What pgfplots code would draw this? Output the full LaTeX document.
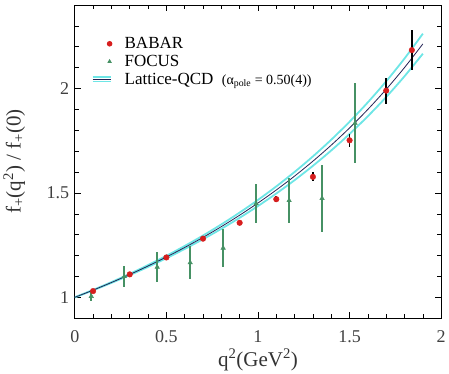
\documentclass[border=0pt]{standalone}
\usepackage{pgfplots}
\pgfplotsset{compat=1.18}
\usepackage{fontspec}
\setmainfont{Liberation Serif}
\definecolor{bandcyan}{RGB}{110,230,230}
\definecolor{navyline}{RGB}{35,35,85}
\definecolor{fgreen}{RGB}{70,145,100}
\definecolor{bred}{RGB}{215,30,30}
\begin{document}
\begin{tikzpicture}
\begin{axis}[
  width=365bp, height=312bp, scale only axis,
  xmin=0, xmax=2, ymin=0.9, ymax=2.4,
  xtick={0,0.5,1,1.5,2},
  xticklabels={0,0.5,1,1.5,2},
  minor xtick={0.1,0.2,0.3,0.4,0.6,0.7,0.8,0.9,1.1,1.2,1.3,1.4,1.6,1.7,1.8,1.9},
  ytick={1,1.5,2},
  yticklabels={1,1.5,2},
  minor ytick={1.1,1.2,1.3,1.4,1.6,1.7,1.8,1.9,2.1,2.2,2.3},
  tick align=inside,
  major tick length=6bp, minor tick length=4bp,
  tick style={black, line width=0.6pt},
  axis line style={line width=0.6pt},
  /pgf/number format/assume math mode=true,
  ticklabel style={font=\fontsize{18}{20}\selectfont, text=black!75},
  xticklabel style={yshift=-9bp},
  yticklabel style={xshift=-2bp},
  xlabel={q\textsuperscript{2}(GeV\textsuperscript{2})},
  ylabel={f\textsubscript{+}(q\textsuperscript{2}) / f\textsubscript{+}(0)},
  label style={font=\fontsize{21}{23}\selectfont, text=black!80},
  xlabel style={at={(axis description cs:0.5,0)}, anchor=north, yshift=-27bp},
  ylabel style={at={(axis description cs:0,0.5)}, anchor=south, yshift=46bp},
  legend style={at={(axis description cs:0.037,0.91)}, anchor=north west,
    draw=none, fill=none, font=\fontsize{17}{19}\selectfont,
    row sep=1bp, column sep=10bp},
  legend cell align=left,
]
% lattice band (alpha = 0.46 and 0.54) and central curve (alpha = 0.50)
\addplot[bandcyan, line width=1.8bp, smooth, forget plot] coordinates {
(0,1) (0.1,1.03547) (0.2,1.07293) (0.3,1.11253) (0.4,1.15443) (0.5,1.19884)
(0.6,1.24595) (0.7,1.29601) (0.8,1.34927) (0.9,1.40602) (1.0,1.46658)
(1.1,1.53133) (1.2,1.60066) (1.3,1.67504) (1.4,1.75500) (1.5,1.84112)
(1.6,1.93412) (1.7,2.03476) (1.8,2.14394) (1.9,2.26271)};
\addplot[bandcyan, line width=1.8bp, smooth, forget plot] coordinates {
(0,1) (0.1,1.03360) (0.2,1.06900) (0.3,1.10635) (0.4,1.14579) (0.5,1.18750)
(0.6,1.23166) (0.7,1.27847) (0.8,1.32817) (0.9,1.38100) (1.0,1.43726)
(1.1,1.49725) (1.2,1.56134) (1.3,1.62994) (1.4,1.70349) (1.5,1.78252)
(1.6,1.86764) (1.7,1.95951) (1.8,2.05893) (1.9,2.16680)};
\addplot[navyline, line width=0.8bp, smooth, forget plot] coordinates {
(0,1) (0.1,1.03453) (0.2,1.07096) (0.3,1.10943) (0.4,1.15010) (0.5,1.19314)
(0.6,1.23877) (0.7,1.28718) (0.8,1.33863) (0.9,1.39340) (1.0,1.45177)
(1.1,1.51410) (1.2,1.58075) (1.3,1.65218) (1.4,1.72886) (1.5,1.81135)
(1.6,1.90030) (1.7,1.99643) (1.8,2.10057) (1.9,2.21372)};
% FOCUS
\addplot[only marks, mark=triangle*, mark size=2.6bp, fgreen, forget plot,
  error bars/.cd, y dir=both, y explicit, error mark=none,
  error bar style={line width=1.6bp, fgreen}]
  table[x=x, y=y, y error=e] {
x y e
0.09 1.005 0.022
0.27 1.100 0.052
0.45 1.145 0.072
0.63 1.166 0.078
0.81 1.236 0.090
0.99 1.449 0.092
1.17 1.464 0.109
1.35 1.474 0.160
1.53 1.834 0.193
};
% BABAR
\addplot[only marks, mark=*, mark size=2.8bp, bred, forget plot,
  error bars/.cd, y dir=both, y explicit, error mark=none,
  error bar style={line width=1.6bp, black}]
  table[x=x, y=y, y error=e] {
x y e
0.1 1.030 0.006
0.3 1.110 0.006
0.5 1.191 0.007
0.7 1.281 0.008
0.9 1.357 0.011
1.1 1.470 0.015
1.3 1.577 0.021
1.5 1.752 0.032
1.7 1.990 0.062
1.84 2.184 0.097
};
\addlegendimage{legend image code/.code={
  \path[draw=none, fill=none] (-18bp,-3bp) rectangle (3bp,3bp);
  \fill[bred, draw=none] (0,0) circle (2.8bp);
}}
\addlegendentry{BABAR}
\addlegendimage{legend image code/.code={
  \path[draw=none, fill=none] (-18bp,-3bp) rectangle (3bp,3bp);
  \fill[fgreen, draw=none] (90:2.6bp) -- (210:2.6bp) -- (330:2.6bp) -- cycle;
}}
\addlegendentry{FOCUS}
\addlegendimage{legend image code/.code={
  \path[draw=none, fill=none] (-18bp,-3bp) rectangle (3bp,3bp);
  \draw[bandcyan, line width=1.5bp] (-17bp,2.4bp) -- (1bp,2.4bp);
  \draw[bandcyan, line width=1.5bp] (-17bp,-2.4bp) -- (1bp,-2.4bp);
  \draw[navyline, line width=1.2bp] (-17bp,0bp) -- (1bp,0bp);
}}
\addlegendentry{Lattice-QCD \ {\fontsize{14}{15}\selectfont(α\textsubscript{pole} = 0.50(4))}}
\end{axis}
\path ([yshift=5bp]current axis.north west);
\path ([xshift=6bp]current axis.south east);
\path ([yshift=-55bp]current axis.south);
\end{tikzpicture}
\end{document}
